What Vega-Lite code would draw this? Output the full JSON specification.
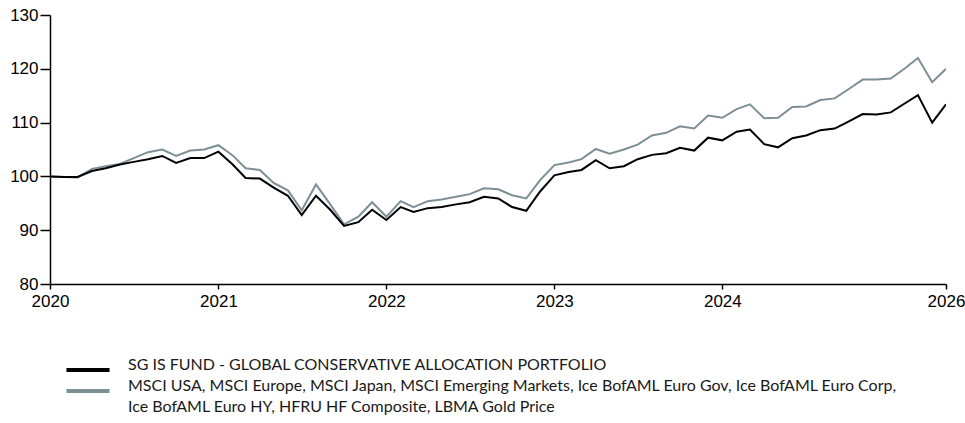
{
  "$schema": "https://vega.github.io/schema/vega-lite/v6.json",
  "width": 896,
  "height": 269,
  "autosize": {"type": "none"},
  "padding": {"left": 50, "top": 15, "right": 19, "bottom": 139},
  "background": "#ffffff",
  "config": {
    "view": {"stroke": null}
  },
  "data": {
    "values": [
      {"date":"2020-01-01","series":"bench","value":100},
      {"date":"2020-02-01","series":"bench","value":99.9},
      {"date":"2020-03-01","series":"bench","value":99.8},
      {"date":"2020-04-01","series":"bench","value":101.4},
      {"date":"2020-05-01","series":"bench","value":101.9},
      {"date":"2020-06-01","series":"bench","value":102.3},
      {"date":"2020-07-01","series":"bench","value":103.4},
      {"date":"2020-08-01","series":"bench","value":104.5},
      {"date":"2020-09-01","series":"bench","value":105.0},
      {"date":"2020-10-01","series":"bench","value":103.8},
      {"date":"2020-11-01","series":"bench","value":104.8},
      {"date":"2020-12-01","series":"bench","value":105.0},
      {"date":"2021-01-01","series":"bench","value":105.8},
      {"date":"2021-02-01","series":"bench","value":103.9},
      {"date":"2021-03-01","series":"bench","value":101.5},
      {"date":"2021-04-01","series":"bench","value":101.2},
      {"date":"2021-05-01","series":"bench","value":98.8},
      {"date":"2021-06-01","series":"bench","value":97.4},
      {"date":"2021-07-01","series":"bench","value":93.7},
      {"date":"2021-08-01","series":"bench","value":98.5},
      {"date":"2021-09-01","series":"bench","value":94.8},
      {"date":"2021-10-01","series":"bench","value":91.1},
      {"date":"2021-11-01","series":"bench","value":92.5},
      {"date":"2021-12-01","series":"bench","value":95.2},
      {"date":"2022-01-01","series":"bench","value":92.5},
      {"date":"2022-02-01","series":"bench","value":95.4},
      {"date":"2022-03-01","series":"bench","value":94.3},
      {"date":"2022-04-01","series":"bench","value":95.4},
      {"date":"2022-05-01","series":"bench","value":95.7},
      {"date":"2022-06-01","series":"bench","value":96.2},
      {"date":"2022-07-01","series":"bench","value":96.7},
      {"date":"2022-08-01","series":"bench","value":97.8},
      {"date":"2022-09-01","series":"bench","value":97.6},
      {"date":"2022-10-01","series":"bench","value":96.5},
      {"date":"2022-11-01","series":"bench","value":95.9},
      {"date":"2022-12-01","series":"bench","value":99.3},
      {"date":"2023-01-01","series":"bench","value":102.1},
      {"date":"2023-02-01","series":"bench","value":102.6},
      {"date":"2023-03-01","series":"bench","value":103.2},
      {"date":"2023-04-01","series":"bench","value":105.1},
      {"date":"2023-05-01","series":"bench","value":104.2},
      {"date":"2023-06-01","series":"bench","value":105.0},
      {"date":"2023-07-01","series":"bench","value":105.9},
      {"date":"2023-08-01","series":"bench","value":107.6},
      {"date":"2023-09-01","series":"bench","value":108.1},
      {"date":"2023-10-01","series":"bench","value":109.3},
      {"date":"2023-11-01","series":"bench","value":108.9},
      {"date":"2023-12-01","series":"bench","value":111.3},
      {"date":"2024-01-01","series":"bench","value":110.9},
      {"date":"2024-02-01","series":"bench","value":112.5},
      {"date":"2024-03-01","series":"bench","value":113.4},
      {"date":"2024-04-01","series":"bench","value":110.8},
      {"date":"2024-05-01","series":"bench","value":110.9},
      {"date":"2024-06-01","series":"bench","value":112.9},
      {"date":"2024-07-01","series":"bench","value":113.0},
      {"date":"2024-08-01","series":"bench","value":114.2},
      {"date":"2024-09-01","series":"bench","value":114.5},
      {"date":"2024-10-01","series":"bench","value":116.2},
      {"date":"2024-11-01","series":"bench","value":118.0},
      {"date":"2024-12-01","series":"bench","value":118.0},
      {"date":"2025-01-01","series":"bench","value":118.2},
      {"date":"2025-02-01","series":"bench","value":120.1},
      {"date":"2025-03-01","series":"bench","value":122.0},
      {"date":"2025-04-01","series":"bench","value":117.5},
      {"date":"2025-05-01","series":"bench","value":120.0},
      {"date":"2020-01-01","series":"fund","value":100},
      {"date":"2020-02-01","series":"fund","value":99.9},
      {"date":"2020-03-01","series":"fund","value":99.9},
      {"date":"2020-04-01","series":"fund","value":101.0},
      {"date":"2020-05-01","series":"fund","value":101.5},
      {"date":"2020-06-01","series":"fund","value":102.2},
      {"date":"2020-07-01","series":"fund","value":102.7},
      {"date":"2020-08-01","series":"fund","value":103.2},
      {"date":"2020-09-01","series":"fund","value":103.8},
      {"date":"2020-10-01","series":"fund","value":102.5},
      {"date":"2020-11-01","series":"fund","value":103.4},
      {"date":"2020-12-01","series":"fund","value":103.4},
      {"date":"2021-01-01","series":"fund","value":104.6},
      {"date":"2021-02-01","series":"fund","value":102.2},
      {"date":"2021-03-01","series":"fund","value":99.7},
      {"date":"2021-04-01","series":"fund","value":99.6},
      {"date":"2021-05-01","series":"fund","value":97.9},
      {"date":"2021-06-01","series":"fund","value":96.4},
      {"date":"2021-07-01","series":"fund","value":92.8},
      {"date":"2021-08-01","series":"fund","value":96.4},
      {"date":"2021-09-01","series":"fund","value":93.8},
      {"date":"2021-10-01","series":"fund","value":90.8},
      {"date":"2021-11-01","series":"fund","value":91.5},
      {"date":"2021-12-01","series":"fund","value":93.8},
      {"date":"2022-01-01","series":"fund","value":91.9},
      {"date":"2022-02-01","series":"fund","value":94.3},
      {"date":"2022-03-01","series":"fund","value":93.4},
      {"date":"2022-04-01","series":"fund","value":94.1},
      {"date":"2022-05-01","series":"fund","value":94.3},
      {"date":"2022-06-01","series":"fund","value":94.8},
      {"date":"2022-07-01","series":"fund","value":95.2},
      {"date":"2022-08-01","series":"fund","value":96.2},
      {"date":"2022-09-01","series":"fund","value":95.9},
      {"date":"2022-10-01","series":"fund","value":94.3},
      {"date":"2022-11-01","series":"fund","value":93.6},
      {"date":"2022-12-01","series":"fund","value":97.2},
      {"date":"2023-01-01","series":"fund","value":100.2},
      {"date":"2023-02-01","series":"fund","value":100.8},
      {"date":"2023-03-01","series":"fund","value":101.2},
      {"date":"2023-04-01","series":"fund","value":103.0},
      {"date":"2023-05-01","series":"fund","value":101.5},
      {"date":"2023-06-01","series":"fund","value":101.9},
      {"date":"2023-07-01","series":"fund","value":103.2},
      {"date":"2023-08-01","series":"fund","value":104.0},
      {"date":"2023-09-01","series":"fund","value":104.3},
      {"date":"2023-10-01","series":"fund","value":105.3},
      {"date":"2023-11-01","series":"fund","value":104.8},
      {"date":"2023-12-01","series":"fund","value":107.2},
      {"date":"2024-01-01","series":"fund","value":106.7},
      {"date":"2024-02-01","series":"fund","value":108.3},
      {"date":"2024-03-01","series":"fund","value":108.7},
      {"date":"2024-04-01","series":"fund","value":106.0},
      {"date":"2024-05-01","series":"fund","value":105.4},
      {"date":"2024-06-01","series":"fund","value":107.1},
      {"date":"2024-07-01","series":"fund","value":107.6},
      {"date":"2024-08-01","series":"fund","value":108.6},
      {"date":"2024-09-01","series":"fund","value":108.9},
      {"date":"2024-10-01","series":"fund","value":110.2},
      {"date":"2024-11-01","series":"fund","value":111.6},
      {"date":"2024-12-01","series":"fund","value":111.5},
      {"date":"2025-01-01","series":"fund","value":111.9},
      {"date":"2025-02-01","series":"fund","value":113.6},
      {"date":"2025-03-01","series":"fund","value":115.1},
      {"date":"2025-04-01","series":"fund","value":110.0},
      {"date":"2025-05-01","series":"fund","value":113.4}
    ]
  },
  "mark": {"type": "line", "strokeWidth": 2, "strokeJoin": "miter", "clip": true},
  "encoding": {
    "x": {
      "field": "date",
      "type": "temporal",
      "scale": {
        "type": "utc",
        "domain": [
          {"year": 2020, "month": 1, "date": 1, "utc": true},
          {"year": 2025, "month": 5, "date": 1, "utc": true}
        ]
      },
      "axis": {
        "title": null,
        "grid": false,
        "values": [
          {"year": 2020, "month": 1, "date": 1, "utc": true},
          {"year": 2021, "month": 1, "date": 1, "utc": true},
          {"year": 2022, "month": 1, "date": 1, "utc": true},
          {"year": 2023, "month": 1, "date": 1, "utc": true},
          {"year": 2024, "month": 1, "date": 1, "utc": true},
          {"year": 2025, "month": 5, "date": 1, "utc": true}
        ],
        "labelExpr": "utcyear(datum.value) >= 2025 ? '2026' : utcFormat(datum.value, '%Y')",
        "labelFlush": false,
        "labelOverlap": false,
        "labelFont": "Liberation Sans",
        "labelFontSize": 17,
        "labelColor": "#000000",
        "labelPadding": 4,
        "tickSize": 5,
        "tickColor": "#000000",
        "tickWidth": 1.5,
        "domainColor": "#000000",
        "domainWidth": 1.5
      }
    },
    "y": {
      "field": "value",
      "type": "quantitative",
      "scale": {"domain": [80, 130], "zero": false, "nice": false},
      "axis": {
        "title": null,
        "grid": false,
        "values": [80, 90, 100, 110, 120, 130],
        "labelFlush": false,
        "labelOverlap": false,
        "labelFont": "Liberation Sans",
        "labelFontSize": 17,
        "labelColor": "#000000",
        "labelPadding": 2,
        "tickSize": 10,
        "tickColor": "#000000",
        "tickWidth": 1.5,
        "domainColor": "#000000",
        "domainWidth": 1.5
      }
    },
    "color": {
      "field": "series",
      "type": "nominal",
      "scale": {"domain": ["fund", "bench", "bench_cont"], "range": ["#000000", "#7d8f96", "transparent"]},
      "legend": {
        "title": null,
        "orient": "none",
        "legendX": 30,
        "legendY": 347,
        "direction": "vertical",
        "symbolType": "M-4,0H4",
        "symbolSize": 116,
        "symbolStrokeWidth": 4,
        "labelFont": "Lato",
        "labelFontSize": 16,
        "labelColor": "#1a1a1a",
        "labelBaseline": "alphabetic",
        "labelLimit": 900,
        "labelOffset": 32,
        "rowPadding": 0,
        "labelExpr": "datum.value == 'fund' ? 'SG IS FUND - GLOBAL CONSERVATIVE ALLOCATION PORTFOLIO' : datum.value == 'bench' ? 'MSCI USA, MSCI Europe, MSCI Japan, MSCI Emerging Markets, Ice BofAML Euro Gov, Ice BofAML Euro Corp,' : 'Ice BofAML Euro HY, HFRU HF Composite, LBMA Gold Price'"
      }
    }
  }
}
